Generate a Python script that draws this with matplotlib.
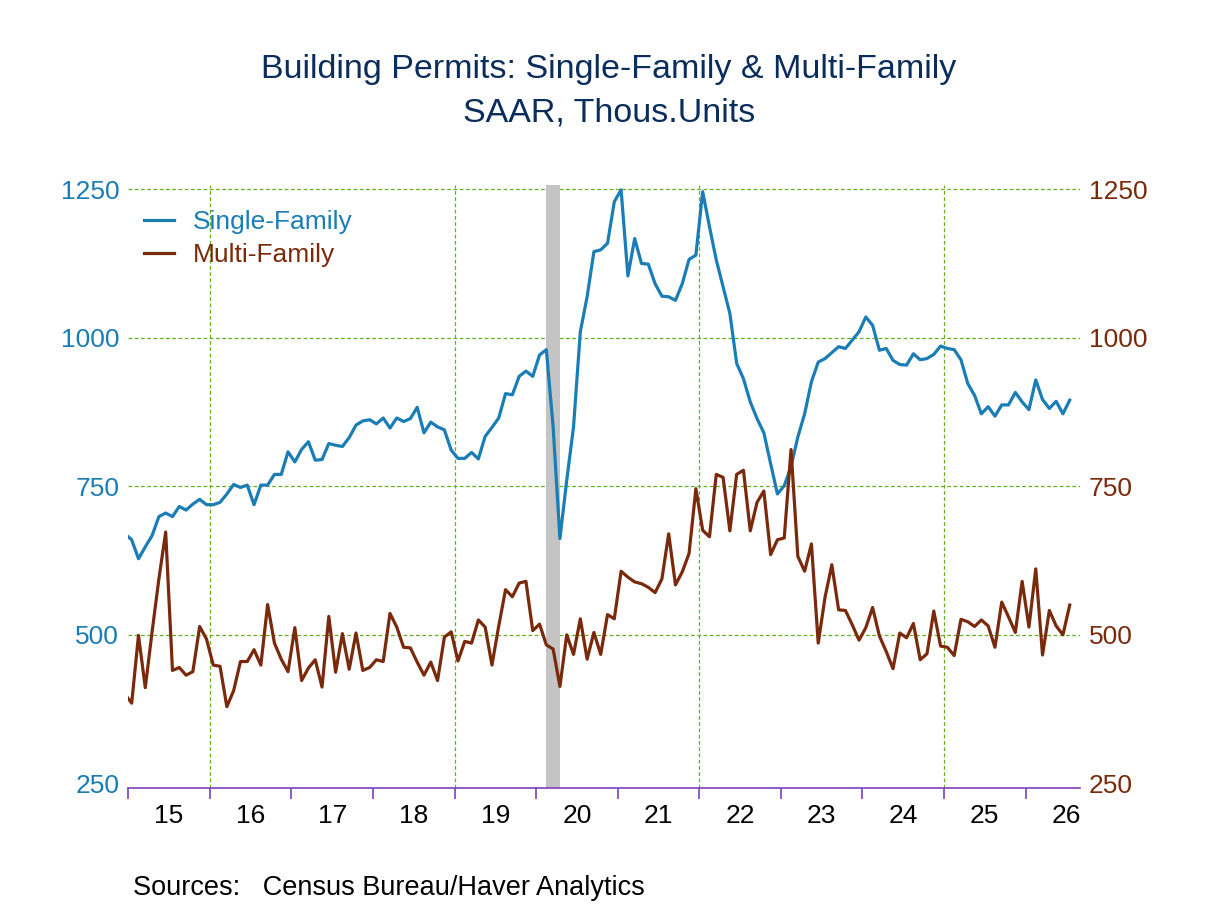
import numpy as np
import pandas as pd
import matplotlib
matplotlib.use("Agg")
import matplotlib.pyplot as plt

plt.rcParams['font.family'] = ['Liberation Sans', 'DejaVu Sans']

# monthly data, Dec 2014 .. Jul 2026 (thous. units, SAAR)
start_month = "2014-12"
single_family = [
    670,
    660, 628, 648, 667, 699, 705, 699, 716, 710, 720, 728, 719,
    719, 723, 737, 753, 748, 752, 719, 752, 752, 770, 770, 808,
    791, 812, 825, 794, 795, 822, 819, 817, 832, 853, 860, 862,
    855, 865, 848, 865, 859, 864, 883, 840, 858, 850, 845, 811,
    797, 797, 807, 796, 834, 849, 865, 906, 904, 935, 944, 935,
    971, 980, 850, 662, 760, 850, 1010, 1069, 1145, 1148, 1159, 1229,
    1249, 1104, 1167, 1125, 1124, 1091, 1070, 1069, 1063, 1091, 1132, 1139,
    1246, 1187, 1131, 1086, 1041, 957, 931, 892, 864, 840, 788, 737,
    751, 783, 833, 872, 926, 959, 965, 975, 985, 982, 996, 1010,
    1035, 1021, 979, 982, 962, 955, 954, 973, 963, 965, 972, 986,
    982, 980, 963, 923, 903, 872, 884, 868, 887, 887, 908, 892,
    879, 929, 896, 881, 893, 872, 895,
]
multi_family = [
    400,
    385, 499, 411, 505, 594, 673, 440, 445, 432, 438, 514, 493,
    449, 447, 379, 406, 455, 455, 475, 449, 551, 486, 459, 438,
    512, 423, 444, 458, 412, 531, 437, 502, 442, 503, 440, 445,
    458, 455, 536, 513, 479, 478, 454, 432, 454, 423, 496, 505,
    456, 489, 486, 525, 513, 449, 515, 576, 564, 587, 590, 507,
    518, 483, 476, 413, 500, 467, 527, 459, 504, 467, 534, 527,
    607, 597, 589, 586, 580, 571, 594, 670, 584, 606, 637, 746,
    676, 665, 770, 765, 675, 770, 777, 675, 723, 742, 635, 660,
    663, 812, 632, 607, 653, 486, 563, 618, 542, 541, 517, 491,
    512, 546, 498, 472, 443, 503, 495, 519, 458, 468, 540, 481,
    479, 465, 526, 522, 514, 525, 515, 479, 555, 530, 504, 590,
    513, 611, 466, 541, 515, 500, 550,
]
recession = ("2020-02", "2020-04")
years = list(range(2015, 2027))
year_labels = [str(y)[2:] for y in years]
y_ticks = [250, 500, 750, 1000, 1250]

blue = '#1a7db5'
brown = '#7a2a0c'
green = '#66b020'
purple = '#7d3fbf'

dates = pd.date_range(start_month, periods=len(single_family), freq="MS")
x = dates.year + (dates.month - 0.5) / 12.0

fig = plt.figure(figsize=(12.08, 9.06), dpi=100)
ax = fig.add_axes([0.1062, 0.1299, 0.7878, 0.6658])

r0 = pd.Timestamp(recession[0])
r1 = pd.Timestamp(recession[1])
ax.axvspan(r0.year + (r0.month - 0.5) / 12, r1.year + (r1.month - 0.5) / 12,
           color='#c4c4c4', lw=0, zorder=2)

# dotted green grid
for gx in [2016, 2019, 2022, 2025]:
    ax.axvline(gx, color=green, lw=0.9, ls=(0, (3, 2)), zorder=1)
for gy in [500, 750, 1000, 1250]:
    ax.axhline(gy, color=green, lw=0.9, ls=(0, (3, 2)), zorder=1)

ax.plot(x, single_family, color=blue, lw=2.3, label='Single-Family', zorder=3)
ax.plot(x, multi_family, color=brown, lw=2.3, label='Multi-Family', zorder=3)

ax.set_xlim(2015, 2026.667)
ax.set_ylim(241.6, 1257)

for s in ['top', 'left', 'right']:
    ax.spines[s].set_visible(False)
ax.spines['bottom'].set_color(purple)
ax.spines['bottom'].set_linewidth(1.2)

ax.set_xticks(years)
ax.set_xticklabels([])
ax.set_xticks([y + 0.5 for y in years], minor=True)
ax.set_xticklabels(year_labels, minor=True)
ax.tick_params(axis='x', which='major', length=8, width=1.2, color=purple, direction='out')
ax.tick_params(axis='x', which='minor', length=0, pad=11, labelsize=19, labelcolor='black')

ax.set_yticks(y_ticks)
ax.tick_params(axis='y', length=0, pad=6.5, labelsize=19, labelcolor=blue)

ax2 = ax.twinx()
ax2.set_ylim(ax.get_ylim())
ax2.set_yticks(y_ticks)
ax2.tick_params(axis='y', length=0, pad=6.5, labelsize=19, labelcolor=brown)
for s in ax2.spines.values():
    s.set_visible(False)

leg = ax.legend(loc='upper left', bbox_to_anchor=(0.0165, 0.9587), frameon=False,
                fontsize=19, handlelength=1.15, handletextpad=0.72,
                labelspacing=0.35, borderaxespad=0, borderpad=0)
for txt, c in zip(leg.get_texts(), [blue, brown]):
    txt.set_color(c)

fig.text(0.504, 0.9136, "Building Permits: Single-Family & Multi-Family",
         ha='center', va='baseline', fontsize=24.5, color='#0b2d5b')
fig.text(0.504, 0.8657, "SAAR, Thous.Units",
         ha='center', va='baseline', fontsize=24.5, color='#0b2d5b')
fig.text(133 / 1208, 0.0121, "Sources:   Census Bureau/Haver Analytics",
         ha='left', va='baseline', fontsize=19.5, color='black')

fig.savefig("out.png", dpi=100)
